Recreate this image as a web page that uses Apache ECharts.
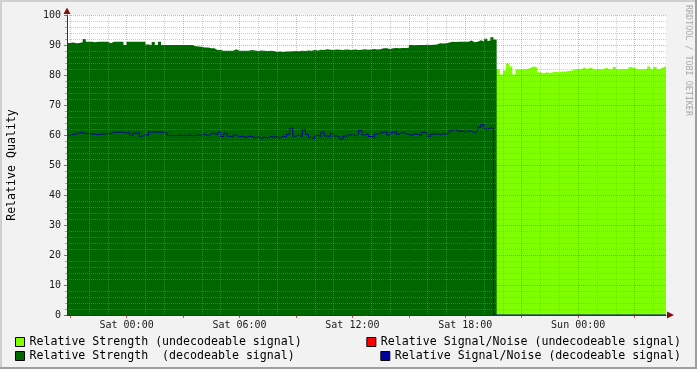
<!DOCTYPE html>
<html><head><meta charset="utf-8">
<script src="https://cdn.jsdelivr.net/npm/echarts@6/dist/echarts.min.js"></script>
<style>html,body{margin:0;padding:0;background:#f2f2f2}#c{width:697px;height:369px}</style>
</head><body><div id="c"></div>
<script>
// ---- time axis: 10-minute steps from Fri 20:50 to Sun 04:40 ----
const dayNames = ['Fri', 'Sat', 'Sun'];
const startMinute = 20 * 60 + 50;
const stepMinutes = 10;
const pointCount = 192;
const categories = [];
for (let i = 0; i < pointCount; i++) {
  const m = startMinute + i * stepMinutes;
  const d = Math.floor(m / 1440), hm = m % 1440;
  const hh = String(Math.floor(hm / 60)).padStart(2, '0');
  const mm = String(hm % 60).padStart(2, '0');
  categories.push(dayNames[d] + ' ' + hh + ':' + mm);
}
const tickLabels = ['Sat 00:00', 'Sat 06:00', 'Sat 12:00', 'Sat 18:00', 'Sun 00:00'];

// Relative Strength (decodeable), Fri 20:50 .. Sat 19:30
const strengthDecodeable = [
  90.7, 90.8, 90.6, 90.7, 90.9, 92.0, 91.1, 91.1, 90.9, 91.1,
  91.1, 91.1, 91.1, 90.6, 91.1, 91.1, 91.1, 91.1, 90.0, 91.1,
  91.1, 91.1, 91.1, 91.1, 91.1, 90.2, 90.0, 91.0, 90.0, 91.1,
  90.0, 90.0, 90.0, 90.0, 90.0, 90.0, 90.0, 90.0, 90.0, 90.0,
  89.6, 89.5, 89.4, 89.2, 89.2, 88.9, 88.9, 88.3, 88.3, 88.1,
  88.1, 88.1, 88.1, 88.6, 88.1, 88.1, 88.1, 88.1, 88.3, 88.2,
  88.0, 88.2, 88.1, 88.0, 88.1, 88.0, 87.7, 87.8, 87.7, 87.8,
  87.8, 87.9, 88.0, 87.9, 88.1, 88.0, 88.2, 88.1, 88.3, 88.2,
  88.4, 88.3, 88.6, 88.4, 88.3, 88.5, 88.4, 88.3, 88.5, 88.4,
  88.3, 88.5, 88.3, 88.4, 88.6, 88.4, 88.5, 88.7, 88.5, 88.6,
  88.9, 88.9, 88.7, 88.9, 89.0, 88.9, 89.0, 89.0, 89.1, 90.0,
  89.9, 90.0, 90.0, 90.0, 90.1, 90.0, 90.1, 90.2, 90.6, 90.5,
  90.6, 90.8, 91.1, 91.0, 91.1, 91.1, 91.1, 91.1, 91.5, 90.9,
  91.1, 91.6, 91.2, 92.1, 91.4, 92.6, 91.8
];
// Relative Strength (undecodeable), Sat 19:30 .. Sun 04:40
const strengthUndecodeable = [
  81.9, 81.9, 80.2, 81.5, 83.8, 82.8, 80.2, 81.8, 81.9, 81.9,
  82.0, 82.5, 82.8, 82.6, 80.9, 80.6, 80.9, 80.7, 80.9, 81.1,
  80.9, 81.2, 81.2, 81.3, 81.5, 81.9, 82.0, 81.9, 82.5, 81.9,
  82.5, 81.9, 81.9, 82.0, 81.9, 82.4, 81.9, 81.9, 82.7, 81.9,
  81.9, 82.0, 81.9, 82.6, 82.3, 81.9, 81.9, 81.9, 82.0, 82.8,
  81.9, 82.7, 81.9, 82.5, 82.9, 82.9
];
// Relative Signal/Noise (decodeable), Fri 20:50 .. Sat 19:20, then 0
const snrDecodeable = [
  59.8, 60.2, 60.3, 60.8, 60.8, 60.4, 60.5, 60.3, 60.3, 60.1,
  60.3, 60.3, 60.6, 60.4, 61.0, 60.9, 60.9, 61.0, 60.6, 60.9,
  59.9, 60.6, 60.8, 59.6, 60.1, 59.8, 61.0, 61.0, 61.0, 60.9,
  61.0, 60.5, 59.8, 59.8, 59.8, 59.9, 59.8, 59.8, 60.0, 59.8,
  59.8, 60.0, 59.8, 60.2, 59.8, 60.3, 60.6, 60.0, 60.9, 59.5,
  60.6, 59.6, 59.3, 60.0, 59.4, 59.6, 59.2, 59.5, 59.6, 59.0,
  59.4, 58.9, 59.3, 59.0, 59.5, 59.2, 59.8, 59.1, 59.6, 59.4,
  60.2, 62.3, 59.6, 60.0, 59.4, 61.8, 60.2, 59.2, 58.8, 59.9,
  59.5, 60.9, 59.7, 59.5, 60.5, 59.7, 59.3, 58.6, 59.6, 60.0,
  60.1, 59.7, 60.2, 61.5, 60.0, 60.4, 59.5, 59.2, 60.3, 60.6,
  61.0, 61.0, 59.9, 60.8, 61.2, 60.3, 60.9, 60.5, 60.2, 59.9,
  60.4, 60.2, 59.8, 60.9, 60.5, 59.6, 60.3, 60.4, 60.1, 60.5,
  60.2, 60.8, 61.6, 61.8, 61.2, 61.3, 61.0, 61.5, 61.2, 60.8,
  61.4, 62.6, 63.5, 61.9, 62.4, 62.2
];
const snrAfter = 0;

const names = {
  su: 'Relative Strength (undecodeable signal)',
  sd: 'Relative Strength  (decodeable signal)',
  nu: 'Relative Signal/Noise (undecodeable signal)',
  nd: 'Relative Signal/Noise (decodeable signal)'
};

const fill = (n, v) => Array(n).fill(v);
const dataSD = strengthDecodeable.concat(fill(pointCount - strengthDecodeable.length, null));
const dataSU = fill(pointCount - strengthUndecodeable.length, null).concat(strengthUndecodeable);
const dataND = snrDecodeable.concat(fill(pointCount - snrDecodeable.length, snrAfter));

const satIdx = categories.indexOf('Sat 00:00');
const isHour = i => ((i - satIdx) % 6 + 6) % 6 === 0;
const isMajor = i => ((i - satIdx) % 18 + 18) % 18 === 0;
const isLabel = i => tickLabels.indexOf(categories[i]) >= 0;

const FONT = 'DejaVu Sans Mono';
const minorGrid = 'rgba(143,143,143,0.45)';
const majorGrid = 'rgba(229,0,0,0.35)';

const chart = echarts.init(document.getElementById('c'), null, {renderer: 'canvas'});
const legendBase = {
  icon: 'rect', itemWidth: 9, itemHeight: 9, padding: 0, selectedMode: false,
  itemStyle: {borderColor: '#000', borderWidth: 1},
  textStyle: {fontFamily: FONT, fontSize: 11.6, color: '#000'}
};
chart.setOption({
  animation: false,
  backgroundColor: '#f2f2f2',
  grid: {left: 67, right: 31, top: 15, bottom: 54, show: true, backgroundColor: '#ffffff', borderWidth: 0,
         containLabel: false, outerBoundsMode: 'none'},
  legend: [
    Object.assign({}, legendBase, {data: [names.su], left: 15, top: 336}),
    Object.assign({}, legendBase, {data: [names.sd], left: 15, top: 350}),
    Object.assign({}, legendBase, {data: [names.nu], right: 16, top: 336}),
    Object.assign({}, legendBase, {data: [names.nd], right: 16, top: 350})
  ],
  xAxis: [
    {
      type: 'category', data: categories, boundaryGap: false, z: 5,
      axisLine: {show: true, lineStyle: {color: '#333', width: 1}},
      axisTick: {show: true, interval: i => isMajor(i), length: 3, lineStyle: {color: 'rgba(229,0,0,0.7)'}},
      axisLabel: {interval: i => isLabel(i), fontFamily: FONT, fontSize: 10, color: '#1a1a1a', margin: 5},
      splitLine: {show: true, interval: i => isMajor(i), lineStyle: {color: majorGrid, type: [1, 1], width: 1}}
    },
    {
      type: 'category', data: categories, boundaryGap: false, z: 5, position: 'bottom',
      axisLine: {show: false}, axisTick: {show: false}, axisLabel: {show: false},
      splitLine: {show: true, interval: i => isHour(i) && !isMajor(i), lineStyle: {color: minorGrid, type: [1, 1], width: 1}}
    }
  ],
  yAxis: {
    type: 'value', min: 0, max: 100, interval: 10, z: 5,
    name: 'Relative Quality', nameLocation: 'middle', nameGap: 49, nameRotate: 90,
    nameTextStyle: {fontFamily: FONT, fontSize: 11.6, color: '#000'},
    axisLine: {show: true, lineStyle: {color: '#333', width: 1}},
    axisTick: {show: true, length: 3, lineStyle: {color: 'rgba(229,0,0,0.7)'}},
    minorTick: {show: true, splitNumber: 5, length: 2, lineStyle: {color: 'rgba(143,143,143,0.8)'}},
    axisLabel: {fontFamily: FONT, fontSize: 10, color: '#1a1a1a', margin: 6},
    splitLine: {show: true, lineStyle: {color: majorGrid, type: [1, 1], width: 1}},
    minorSplitLine: {show: true, lineStyle: {color: minorGrid, type: [1, 1], width: 1}}
  },
  series: [
    {name: names.su, type: 'line', step: 'end', data: dataSU, symbol: 'none', z: 2,
     itemStyle: {color: '#80ff00'}, lineStyle: {width: 0}, areaStyle: {color: '#80ff00', opacity: 1}},
    {name: names.sd, type: 'line', step: 'end', data: dataSD, symbol: 'none', z: 2,
     itemStyle: {color: '#006600'}, lineStyle: {width: 0}, areaStyle: {color: '#006600', opacity: 1}},
    {name: names.nu, type: 'line', data: [], symbol: 'none', z: 3, itemStyle: {color: '#ff0000'}},
    {name: names.nd, type: 'line', step: 'end', data: dataND, symbol: 'none', z: 3,
     itemStyle: {color: '#0000a0'}, lineStyle: {color: '#0000a0', width: 1}}
  ],
  graphic: [
    {type: 'rect', shape: {x: 0, y: 0, width: 697, height: 2}, style: {fill: '#cfcfcf'}, silent: true},
    {type: 'rect', shape: {x: 0, y: 0, width: 2, height: 369}, style: {fill: '#cfcfcf'}, silent: true},
    {type: 'rect', shape: {x: 0, y: 367, width: 697, height: 2}, style: {fill: '#9e9e9e'}, silent: true},
    {type: 'rect', shape: {x: 695, y: 0, width: 2, height: 369}, style: {fill: '#9e9e9e'}, silent: true},
    {type: 'polygon', shape: {points: [[63.5, 14], [70.5, 14], [67, 7.5]]}, style: {fill: '#801010'}, z: 10, silent: true},
    {type: 'polygon', shape: {points: [[667, 311.5], [667, 318.5], [674, 315]]}, style: {fill: '#801010'}, z: 10, silent: true},
    {type: 'text', x: 688, y: 5, rotation: -Math.PI / 2, silent: true,
     style: {text: 'RRDTOOL / TOBI OETIKER', fontFamily: FONT, fontSize: 8.4, fill: '#a8a8a8', align: 'left', verticalAlign: 'middle'}}
  ]
});
</script></body></html>
